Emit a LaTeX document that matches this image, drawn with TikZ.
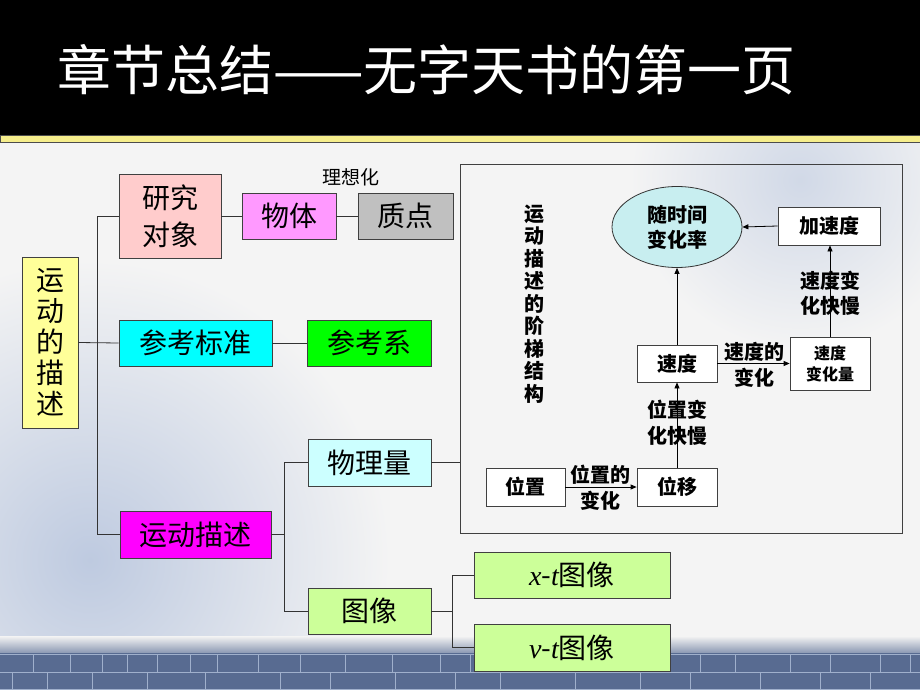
\documentclass[tikz,border=0pt]{standalone}
\usepackage{fontspec}
\setmainfont{Noto Sans CJK SC}
\newfontfamily\tms{Liberation Serif}
\usetikzlibrary{arrows.meta,shapes.geometric}
\definecolor{bgc}{RGB}{244,244,244}
\definecolor{haze}{RGB}{190,202,224}
\definecolor{brick}{RGB}{88,107,145}
\definecolor{mortar}{RGB}{160,176,204}
\definecolor{stripe}{RGB}{246,238,140}
\definecolor{cyellow}{RGB}{255,255,153}
\definecolor{cpink}{RGB}{255,204,204}
\definecolor{cmag}{RGB}{255,153,255}
\definecolor{cgrey}{RGB}{192,192,192}
\definecolor{ccyan}{RGB}{0,255,255}
\definecolor{cgreen}{RGB}{0,255,0}
\definecolor{cfuchsia}{RGB}{255,0,255}
\definecolor{clcyan}{RGB}{204,255,255}
\definecolor{clime}{RGB}{204,255,153}
\definecolor{cell}{RGB}{200,238,240}
\tikzset{
  box/.style={draw=black!75, line width=0.9pt, inner sep=0pt, align=center,
    font=\fontsize{28}{31}\selectfont},
  rbox/.style={draw=black!75, line width=0.8pt, fill=white, inner sep=0pt, align=center,
    font=\bfseries\fontsize{20}{24}\selectfont},
  lbl/.style={align=center, inner sep=0pt, font=\bfseries\fontsize{20}{26}\selectfont},
  conn/.style={draw=black!80, line width=0.8pt},
  arr/.style={draw=black, line width=0.8pt, -{Triangle[length=6pt,width=5pt]}}
}
\begin{document}
\begin{tikzpicture}[x=1pt,y=-1pt]
\useasboundingbox (0,0) rectangle (920,690);
% background
\fill[bgc] (0,0) rectangle (920,690);
\begin{scope}
\clip (0,142) rectangle (920,653);
\shade[inner color=haze, outer color=bgc] (90,560) circle (300);
\shade[inner color=haze!65!bgc, outer color=bgc] (800,180) circle (170);
\end{scope}
\shade[top color=bgc, bottom color=brick!70] (0,636) rectangle (920,653);
% brick band
\fill[brick] (0,653) rectangle (920,690);
\draw[mortar, line width=0.7pt] (0,654.5) -- (920,654.5) (0,672) -- (920,672) (0,689) -- (920,689);
\foreach \xx in {33,70,102,127,157,190,217,258,300,345,392,440,470,520,560,610,650,700,735,790,830,880,910}
  \draw[mortar, line width=1pt] (\xx,655) -- (\xx,672);
\foreach \xx in {12,47,92,147,205,280,330,395,455,500,575,640,690,760,820,870}
  \draw[mortar, line width=1pt] (\xx,672) -- (\xx,689);
% title bar
\fill[black] (0,0) rectangle (920,135);
\draw[black!70, fill=stripe, line width=0.6pt] (0,135.5) rectangle (920,142);
\node[anchor=west, text=white, inner sep=0pt, font=\fontsize{54}{60}\selectfont] (title) at (57,70) {章节总结——无字天书的第一页};

% left tree
\node[box, fill=cyellow, minimum width=56, minimum height=171] (yel) at (50,342.5) {运\\动\\的\\描\\述};
\node[box, fill=cpink, minimum width=102, minimum height=84, font=\fontsize{28}{37}\selectfont] (yjdx) at (170,216) {研究\\对象};
\node[box, fill=cmag, minimum width=94, minimum height=46] (wt) at (289,216) {物体};
\node[box, fill=cgrey, minimum width=95, minimum height=46] (zd) at (405.5,216) {质点};
\node[inner sep=0pt, font=\fontsize{19}{20}\selectfont] (lxh) at (351,177) {理想化};
\node[box, fill=ccyan, minimum width=153, minimum height=46] (ckbz) at (195.5,343) {参考标准};
\node[box, fill=cgreen, minimum width=124, minimum height=46] (ckx) at (369,343) {参考系};
\node[box, fill=cfuchsia, minimum width=151, minimum height=47] (ydms) at (195.5,534.5) {运动描述};
\node[box, fill=clcyan, minimum width=123, minimum height=47] (wll) at (369.5,462.5) {物理量};
\node[box, fill=clime, minimum width=123, minimum height=46] (tx) at (369.5,611) {图像};
\node[box, fill=clime, minimum width=196, minimum height=46] (xt) at (572,575) {{\tms\itshape x}-{\tms\itshape t}图像};
\node[box, fill=clime, minimum width=196, minimum height=47] (vt) at (572,647.5) {{\tms\itshape v}-{\tms\itshape t}图像};

\coordinate (t1) at (97,216);
\coordinate (b2) at (284,462);
\coordinate (b3) at (452,575);
\draw[conn] (yjdx.west) -- (yjdx.west -| t1) -- (ydms.west -| t1) -- (ydms.west);
\draw[conn] (yel.east) -- (ckbz.west);
\draw[conn] (yjdx.east) -- (wt.west);
\draw[conn] (wt.east) -- (zd.west);
\draw[conn] (ckbz.east) -- (ckx.west);
\draw[conn] (ydms.east) -- (ydms.east -| b2);
\draw[conn] (wll.west) -- (wll.west -| b2) -- (tx.west -| b2) -- (tx.west);
\draw[conn] (tx.east) -- (tx.east -| b3);
\draw[conn] (xt.west) -- (xt.west -| b3) -- (vt.west -| b3) -- (vt.west);

% right frame
\node[draw=black!75, line width=1pt, minimum width=442, minimum height=369, inner sep=0pt] (frame) at (681,348.5) {};
\draw[conn] (wll.east) -- (wll.east -| frame.west);
\node[lbl, font=\bfseries\fontsize{20}{22.5}\selectfont] (jt) at (534,304) {运\\动\\描\\述\\的\\阶\\梯\\结\\构};
\node[ellipse, draw=black!80, line width=0.8pt, fill=cell, minimum width=130, minimum height=81, inner sep=0pt, align=center, font=\bfseries\fontsize{20}{25}\selectfont] (ell) at (677,227) {随时间\\变化率};
\node[rbox, minimum width=102, minimum height=38] (jsd) at (829,226) {加速度};
\node[rbox, minimum width=80, minimum height=53, font=\bfseries\fontsize{16}{21}\selectfont] (sdbhl) at (830,363.5) {速度\\变化量};
\node[rbox, minimum width=80, minimum height=37] (sd) at (677,363.5) {速度};
\node[rbox, minimum width=80, minimum height=38] (wy) at (677,487) {位移};
\node[rbox, minimum width=79, minimum height=38] (wz) at (525.5,487) {位置};

\draw[arr] (wz.east) -- (wy.west);
\draw[arr] (wy.north) -- (sd.south);
\draw[arr] (sd.north) -- (ell.south);
\draw[arr] (sd.east) -- (sdbhl.west);
\draw[arr] (sdbhl.north) -- (sdbhl.north |- jsd.south);
\draw[arr] (jsd.west) -- (ell.east);

\node[lbl] (l1) at (600,488) {位置的\\变化};
\node[lbl] (l2) at (677,423) {位置变\\化快慢};
\node[lbl] (l3) at (754,365) {速度的\\变化};
\node[lbl, font=\bfseries\fontsize{20}{25}\selectfont] (l4) at (830,293) {速度变\\化快慢};
\end{tikzpicture}
\end{document}
